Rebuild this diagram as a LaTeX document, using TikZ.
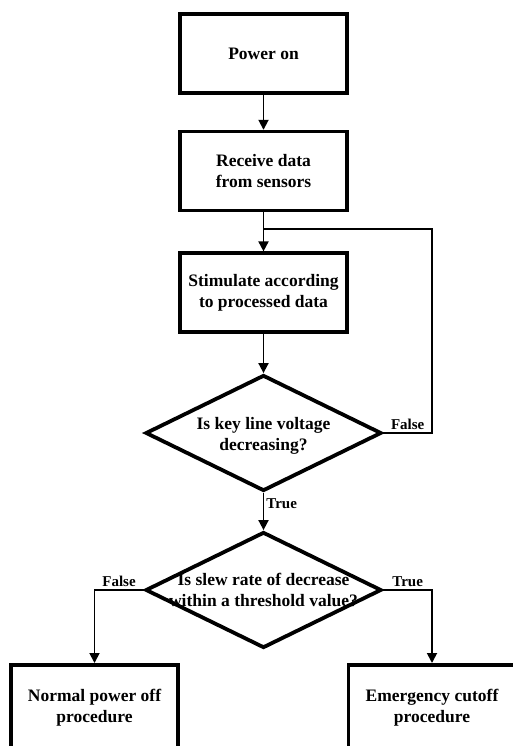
\documentclass[tikz,border=0pt]{standalone}
\usepackage{fontspec}
\setmainfont{Liberation Serif}
\usepackage{tikz}
\usetikzlibrary{arrows.meta,positioning,shapes.geometric}

\begin{document}
\begin{tikzpicture}[
  x=1pt, y=-1pt,
  font=\fontsize{17.5}{21.5}\selectfont\bfseries,
  box/.style={draw, line width=3.6pt, minimum width=167pt, minimum height=79pt,
              align=center, inner sep=2pt},
  dia/.style={draw, diamond, line width=3.8pt, minimum width=236pt,
              minimum height=116pt, inner sep=0pt},
  txt/.style={align=center, inner sep=0pt},
  arr/.style={-{Triangle[length=10pt, width=10pt]}, line width=1.8pt},
  ln/.style={line width=1.8pt},
  lbl/.style={font=\fontsize{15}{17}\selectfont\bfseries, inner sep=2pt}]
\useasboundingbox (0,0) rectangle (513,746);
\clip (0,0) rectangle (513,746);
% ---- main column ----
\node[box] (power) at (263.5,53.5) {Power on};
\node[box, below=35pt of power] (recv) {Receive data\\from sensors};
\node[box, below=39pt of recv] (stim) {Stimulate according\\to processed data};
\node[dia, label={[txt, yshift=-3pt]center:Is key line voltage\\decreasing?}]
  (dec1) at (263.5,433) {};
\node[dia, label={[txt]center:Is slew rate of decrease\\within a threshold value?}]
  (dec2) at (263.5,590) {};
% ---- outcomes ----
\node[box, anchor=north, minimum height=86pt] (normal) at (94.5,663)
  {Normal power off\\procedure};
\node[box, anchor=north, minimum height=86pt] (emerg) at (432,663)
  {Emergency cutoff\\procedure};
% ---- connectors ----
\coordinate (jn) at (263.5,229);
\coordinate (fb) at (432,229);
\draw[arr] (power) -- (recv);
\draw[arr] (recv) -- (stim);
\draw[arr] (stim) -- (dec1);
\draw[ln] (dec1.east) -| node[lbl, pos=0.25, above] {False} (fb) -- (jn);
\draw[arr] (dec1) -- node[lbl, pos=0.3, right] {True} (dec2);
\draw[arr] (dec2.west) -| node[lbl, pos=0.25, above] {False} (normal.north);
\draw[arr] (dec2.east) -| node[lbl, pos=0.25, above] {True} (emerg.north);
\end{tikzpicture}
\end{document}
